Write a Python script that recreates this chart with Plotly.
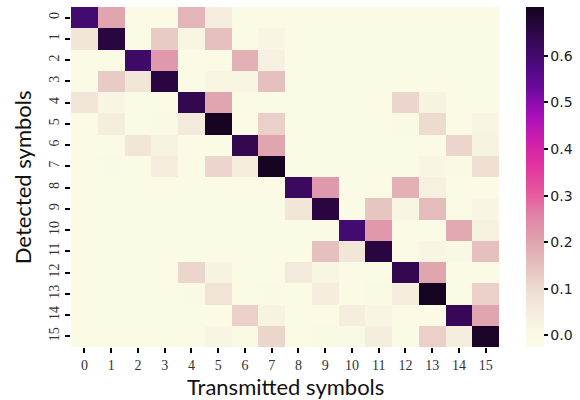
import plotly.graph_objects as go

symbols = list(range(16))
tick_labels = [str(s) for s in symbols]

# rows = detected symbol, columns = transmitted symbol
row_0 = [0.60, 0.20, 0, 0, 0.17, 0.05, 0, 0, 0, 0, 0, 0, 0, 0, 0, 0]
row_1 = [0.07, 0.66, 0, 0.13, 0.02, 0.15, 0, 0.02, 0, 0, 0, 0, 0, 0, 0, 0]
row_2 = [0, 0, 0.61, 0.22, 0, 0, 0.18, 0.04, 0, 0, 0, 0, 0, 0, 0, 0]
row_3 = [0, 0.13, 0.07, 0.66, 0, 0.02, 0.02, 0.15, 0, 0, 0, 0, 0, 0, 0, 0]
row_4 = [0.07, 0.02, 0, 0, 0.64, 0.20, 0, 0, 0, 0, 0, 0, 0.11, 0.03, 0, 0]
row_5 = [0, 0.05, 0, 0.01, 0.06, 0.70, 0, 0.12, 0, 0, 0, 0, 0.01, 0.10, 0, 0.02]
row_6 = [0, 0, 0.07, 0.03, 0, 0, 0.64, 0.20, 0, 0, 0, 0, 0, 0, 0.11, 0.03]
row_7 = [0, 0.005, 0, 0.05, 0, 0.11, 0.05, 0.70, 0, 0, 0, 0, 0, 0.02, 0.01, 0.09]
row_8 = [0, 0, 0, 0, 0, 0, 0, 0, 0.62, 0.22, 0, 0, 0.18, 0.04, 0, 0]
row_9 = [0, 0, 0, 0, 0, 0, 0, 0, 0.07, 0.66, 0, 0.14, 0.02, 0.16, 0, 0.02]
row_10 = [0, 0, 0, 0, 0, 0, 0, 0, 0, 0, 0.60, 0.22, 0, 0, 0.19, 0.04]
row_11 = [0, 0, 0, 0, 0, 0, 0, 0, 0, 0.15, 0.07, 0.66, 0, 0.02, 0.015, 0.15]
row_12 = [0, 0, 0, 0, 0.11, 0.03, 0, 0, 0.06, 0.02, 0, 0, 0.64, 0.20, 0, 0]
row_13 = [0, 0, 0, 0, 0.01, 0.08, 0, 0.01, 0, 0.05, 0, 0.01, 0.05, 0.70, 0, 0.12]
row_14 = [0, 0, 0, 0, 0, 0, 0.12, 0.03, 0, 0, 0.05, 0.02, 0, 0, 0.63, 0.20]
row_15 = [0, 0, 0, 0, 0, 0.02, 0.01, 0.11, 0, 0.01, 0.005, 0.05, 0, 0.12, 0.05, 0.69]

z = [row_0, row_1, row_2, row_3, row_4, row_5, row_6, row_7,
     row_8, row_9, row_10, row_11, row_12, row_13, row_14, row_15]

z_min = -0.025
z_max = 0.705

x_title = "Transmitted symbols"
y_title = "Detected symbols"

colorscale = [
    [0.00, "#fbfce8"],
    [0.05, "#f9f9e4"],
    [0.10, "#f5eedf"],
    [0.16, "#efdfd3"],
    [0.22, "#e8c8c4"],
    [0.30, "#e0a8b0"],
    [0.38, "#df86a6"],
    [0.46, "#e6559e"],
    [0.54, "#e0329f"],
    [0.60, "#d020ac"],
    [0.68, "#a810b8"],
    [0.76, "#6c0a9e"],
    [0.84, "#480a78"],
    [0.91, "#330850"],
    [1.00, "#15031e"],
]

fig = go.Figure(
    go.Heatmap(
        z=z,
        x=symbols,
        y=symbols,
        zmin=z_min,
        zmax=z_max,
        colorscale=colorscale,
        colorbar=dict(
            thickness=18,
            len=1.0,
            lenmode="fraction",
            ypad=0,
            xpad=0,
            x=1.063,
            xanchor="left",
            y=0.5,
            yanchor="middle",
            outlinewidth=0,
            tickvals=[0.0, 0.1, 0.2, 0.3, 0.4, 0.5, 0.6],
            ticktext=["0.0", "0.1", "0.2", "0.3", "0.4", "0.5", "0.6"],
            ticks="outside",
            ticklen=4,
            tickwidth=1.5,
            tickcolor="black",
            tickfont=dict(family="DejaVu Sans", size=14, color="#222"),
        ),
    )
)

fig.update_layout(
    width=580,
    height=400,
    margin=dict(l=71, r=81, t=7, b=53, autoexpand=False),
    paper_bgcolor="white",
    plot_bgcolor="white",
    xaxis=dict(
        tickmode="array",
        tickvals=symbols,
        ticktext=tick_labels,
        ticks="outside",
        ticklen=5,
        tickwidth=1.5,
        tickcolor="black",
        tickfont=dict(family="Liberation Serif", size=14, color="#333"),
        showgrid=False,
        zeroline=False,
        showline=False,
        automargin=False,
    ),
    yaxis=dict(
        tickmode="array",
        tickvals=symbols,
        ticktext=tick_labels,
        autorange="reversed",
        ticks="outside",
        ticklen=5,
        tickwidth=1.5,
        tickcolor="black",
        tickangle=-90,
        tickfont=dict(family="Liberation Serif", size=14, color="#333"),
        showgrid=False,
        zeroline=False,
        showline=False,
        automargin=False,
    ),
    annotations=[
        dict(text=x_title, xref="paper", yref="paper", x=0.5, y=-0.115,
             xanchor="center", yanchor="middle", showarrow=False,
             font=dict(family="Lato", size=22, color="#111")),
        dict(text=y_title, xref="paper", yref="paper", x=-0.114, y=0.5,
             xanchor="center", yanchor="middle", showarrow=False, textangle=-90,
             font=dict(family="Lato", size=22, color="#111")),
    ],
)

fig.write_html(
    "out.html",
    config={"displayModeBar": False},
    post_script="document.body.style.margin='0';document.body.style.padding='0';",
)
